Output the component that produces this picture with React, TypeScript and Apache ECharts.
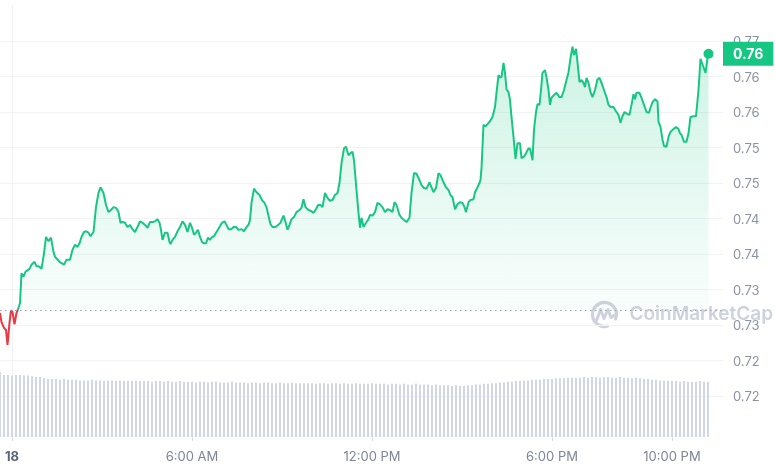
import React, { useEffect, useRef } from 'react';
import * as echarts from 'echarts';

// time in minutes from midnight of the 18th
const axisStart = -24;
const axisEnd = 1422;
const labelTimes = [0, 360, 720, 1080, 1320];
const labelTexts = ['18', '6:00 AM', '12:00 PM', '6:00 PM', '10:00 PM'];

const openPrice = 0.7321;
const lastPrice = 0.7682;
const lastTime = 1393;

const priceTicks = { min: 0.715, max: 0.775, step: 0.005 };

const pricePoints: [number, number][] = [
  [-24, 0.7317], [-21, 0.7304], [-16, 0.7296], [-12, 0.7293], [-9, 0.7272], [-5, 0.7303], [-2, 0.7321], [1, 0.7318],
  [5, 0.7301], [9, 0.7317], [13, 0.7324], [16, 0.7331], [19, 0.7373], [23, 0.7368], [27, 0.7375], [31, 0.7377],
  [35, 0.7379], [39, 0.7385], [45, 0.7389], [49, 0.7383], [55, 0.7382], [59, 0.7379], [64, 0.7401], [68, 0.7424],
  [73, 0.7418], [78, 0.7423], [83, 0.7403], [86, 0.7396], [89, 0.7394], [95, 0.7389], [99, 0.7387], [104, 0.7385],
  [109, 0.7392], [116, 0.7392], [121, 0.7406], [126, 0.7413], [131, 0.741], [135, 0.7415], [139, 0.7424], [144, 0.7431],
  [148, 0.7432], [153, 0.743], [157, 0.7425], [163, 0.7431], [168, 0.7466], [173, 0.7486], [177, 0.7494], [183, 0.7486],
  [188, 0.7469], [193, 0.7459], [198, 0.7462], [203, 0.7466], [208, 0.7465], [213, 0.7459], [217, 0.7444], [221, 0.7445],
  [226, 0.7444], [231, 0.7438], [236, 0.7441], [241, 0.7435], [246, 0.7431], [251, 0.7438], [256, 0.7446], [261, 0.7444],
  [266, 0.7441], [271, 0.7437], [276, 0.7445], [281, 0.7445], [286, 0.7446], [291, 0.7449], [295, 0.7444], [298, 0.7434],
  [301, 0.742], [306, 0.743], [311, 0.743], [315, 0.7417], [317, 0.7414], [321, 0.742], [326, 0.7424], [331, 0.7432],
  [336, 0.7438], [341, 0.7446], [346, 0.7441], [351, 0.7431], [356, 0.7444], [360, 0.7437], [364, 0.7427], [368, 0.743],
  [372, 0.7434], [376, 0.7424], [380, 0.7417], [384, 0.7415], [388, 0.7415], [392, 0.7423], [396, 0.742], [400, 0.7424],
  [404, 0.7425], [409, 0.7431], [415, 0.7438], [420, 0.7444], [425, 0.7446], [429, 0.7441], [433, 0.7435], [439, 0.7435],
  [443, 0.7438], [448, 0.7438], [453, 0.7434], [459, 0.7435], [464, 0.7432], [469, 0.7438], [473, 0.7441], [476, 0.7448],
  [479, 0.7472], [484, 0.7492], [489, 0.7487], [495, 0.7483], [500, 0.7476], [505, 0.7472], [509, 0.7466], [513, 0.7454],
  [517, 0.7442], [521, 0.7438], [527, 0.7438], [532, 0.7441], [537, 0.7444], [543, 0.7454], [547, 0.7445], [551, 0.7434],
  [555, 0.7441], [559, 0.7449], [564, 0.7452], [569, 0.7459], [575, 0.7462], [579, 0.7465], [583, 0.7477], [587, 0.7466],
  [593, 0.7462], [597, 0.7461], [603, 0.7458], [608, 0.7463], [612, 0.7469], [617, 0.7469], [621, 0.7466], [626, 0.7486],
  [631, 0.7479], [636, 0.7475], [641, 0.7476], [646, 0.7483], [651, 0.7486], [655, 0.75], [659, 0.7528], [664, 0.7549],
  [668, 0.7551], [673, 0.7539], [677, 0.7542], [681, 0.7544], [684, 0.7532], [689, 0.749], [693, 0.7458], [696, 0.7437],
  [699, 0.7451], [703, 0.7438], [708, 0.7444], [713, 0.7449], [716, 0.7455], [721, 0.7454], [726, 0.7459], [731, 0.7472],
  [736, 0.747], [741, 0.7466], [746, 0.7459], [751, 0.7463], [756, 0.7462], [761, 0.7459], [765, 0.7473], [769, 0.7469],
  [775, 0.7455], [779, 0.7451], [784, 0.7448], [789, 0.7445], [795, 0.7451], [799, 0.7486], [804, 0.7514], [809, 0.7513],
  [815, 0.7504], [819, 0.7497], [824, 0.7493], [829, 0.7492], [835, 0.7501], [839, 0.7494], [843, 0.7487], [848, 0.7493],
  [853, 0.7514], [857, 0.7511], [863, 0.7501], [868, 0.7494], [873, 0.749], [877, 0.7483], [881, 0.748], [886, 0.7463],
  [891, 0.747], [896, 0.7473], [901, 0.7472], [905, 0.7466], [908, 0.7459], [913, 0.7473], [917, 0.7476], [923, 0.7477],
  [926, 0.7487], [931, 0.7494], [935, 0.75], [937, 0.7504], [939, 0.7521], [943, 0.7582], [947, 0.758], [951, 0.7583],
  [956, 0.7587], [961, 0.7593], [966, 0.7607], [969, 0.7627], [973, 0.7652], [976, 0.7649], [979, 0.7649], [983, 0.7669],
  [986, 0.7655], [989, 0.7632], [993, 0.7628], [996, 0.7617], [999, 0.7593], [1003, 0.7565], [1007, 0.7534], [1011, 0.7556],
  [1016, 0.7556], [1019, 0.7535], [1024, 0.7537], [1028, 0.7542], [1033, 0.7549], [1036, 0.7548], [1039, 0.7539], [1041, 0.7532],
  [1044, 0.7575], [1048, 0.76], [1051, 0.7611], [1055, 0.761], [1058, 0.7631], [1061, 0.7655], [1066, 0.7659], [1069, 0.7649],
  [1073, 0.7631], [1076, 0.761], [1079, 0.762], [1084, 0.7624], [1089, 0.7627], [1095, 0.7621], [1099, 0.7621], [1104, 0.7631],
  [1109, 0.7645], [1113, 0.7656], [1117, 0.7676], [1121, 0.7692], [1124, 0.768], [1128, 0.7689], [1131, 0.767], [1135, 0.7642],
  [1139, 0.7645], [1143, 0.7641], [1146, 0.7635], [1149, 0.7648], [1153, 0.7641], [1157, 0.7628], [1161, 0.7621], [1166, 0.7631],
  [1171, 0.7646], [1175, 0.7648], [1179, 0.7641], [1184, 0.7631], [1189, 0.7621], [1193, 0.761], [1197, 0.7607], [1203, 0.7607],
  [1208, 0.7601], [1213, 0.7596], [1217, 0.7585], [1221, 0.7594], [1225, 0.76], [1231, 0.7597], [1235, 0.7596], [1239, 0.761],
  [1243, 0.7625], [1246, 0.7618], [1249, 0.7627], [1255, 0.7627], [1259, 0.762], [1264, 0.761], [1269, 0.76], [1274, 0.7599],
  [1277, 0.7606], [1281, 0.7614], [1286, 0.7618], [1291, 0.7615], [1293, 0.7586], [1297, 0.7579], [1301, 0.7561], [1304, 0.7552],
  [1309, 0.7551], [1313, 0.7565], [1317, 0.7572], [1323, 0.7576], [1328, 0.7579], [1333, 0.7576], [1336, 0.757], [1339, 0.7568],
  [1344, 0.7558], [1349, 0.7558], [1353, 0.757], [1357, 0.7593], [1363, 0.7594], [1368, 0.7594], [1373, 0.7631], [1377, 0.7675],
  [1383, 0.7663], [1387, 0.7655], [1391, 0.7676], [1393, 0.7682],
];

// volume bars, one every 8 minutes starting at -24
const volumeStart = -24;
const volumeStep = 8;
const volumes = [
  94,
  90, 90, 89, 90, 90, 89, 89, 88,
  87, 87,
  85, 84, 84, 84, 83, 84, 83, 83, 83,
  82, 82, 82, 83, 82, 82, 81, 82, 82, 81, 82, 81, 81, 81, 82, 81,
  81, 81, 80, 81, 81, 80, 81, 80, 80, 81, 80, 80, 80, 79, 80, 80, 79, 80, 80, 79,
  79, 79, 80, 79, 79, 79, 78, 79, 79, 78, 79, 79, 78, 78, 79, 78, 78, 79, 78, 78,
  78, 78, 78, 77, 78, 78, 77, 78, 78, 77, 78, 77, 77, 78, 77, 77, 77, 78, 77, 77, 77, 76, 77, 77, 76, 77, 76, 76, 77, 76,
  76, 76, 75, 76, 75, 75, 75, 74, 75, 74, 74, 75, 75, 76, 76,
  77, 77, 78, 78, 79, 79, 80, 80, 81, 81,
  82, 82, 83, 83, 83, 84, 84, 84, 85, 85,
  85, 86, 86, 86, 86, 87, 86, 87, 87, 86, 87, 87, 86, 86, 87, 86, 86, 85, 86, 85,
  84, 84, 83, 83, 82,
  82, 81, 81, 81, 80, 81, 80, 80, 80, 81, 80, 80,
];

export default function App() {
  const ref = useRef<HTMLDivElement>(null);
  useEffect(() => {
    if (!ref.current) return;
    const chart = echarts.init(ref.current, null, { renderer: 'svg' });
    const font = 'Inter, "Noto Sans", sans-serif';
    const green = '#16c784';
    const red = '#ea3943';
    const wm = '#cdd2dc';
    const volumeData = volumes.map((v, i) => [volumeStart + i * volumeStep, v]);
    const truncated = (v: number) => (Math.floor(v * 100 + 1e-6) / 100).toFixed(2);

    chart.setOption({
      animation: false,
      grid: [
        { left: 0, right: 52, top: 5.5, bottom: 38.5 },
        { left: 0, right: 52, top: 368, bottom: 33 },
      ],
      visualMap: {
        show: false,
        seriesIndex: 0,
        dimension: 1,
        pieces: [
          { gte: 0.5, lt: openPrice, color: red },
          { gte: openPrice, lte: 1, color: green },
        ],
      },
      xAxis: [
        { type: 'value', gridIndex: 0, min: axisStart, max: axisEnd, show: false },
        {
          type: 'value',
          gridIndex: 1,
          min: axisStart,
          max: axisEnd,
          axisLine: { show: false },
          splitLine: { show: false },
          axisTick: { show: true, customValues: labelTimes, length: 4, lineStyle: { color: '#d9dde6' } },
          axisLabel: {
            customValues: labelTimes,
            margin: 12,
            color: '#7d8599',
            fontSize: 13,
            fontFamily: font,
            formatter: (v: number) => {
              const i = labelTimes.indexOf(v);
              if (i < 0) return '';
              return i === 0 ? '{b|' + labelTexts[0] + '}' : labelTexts[i];
            },
            rich: { b: { fontWeight: 'bold', color: '#58667e', fontSize: 13, fontFamily: font } },
          },
        },
      ],
      yAxis: [
        {
          type: 'value',
          gridIndex: 0,
          position: 'right',
          min: priceTicks.min,
          max: priceTicks.max,
          interval: priceTicks.step,
          axisLine: { show: true, lineStyle: { color: '#eff2f5' } },
          axisTick: { show: false },
          splitLine: { show: true, showMinLine: false, showMaxLine: false, lineStyle: { color: '#f1f3f6' } },
          axisLabel: {
            margin: 10,
            color: '#8a92a6',
            fontSize: 13,
            fontFamily: font,
            formatter: (v: number) => (v < 0.7175 || v > 0.7725 ? '' : truncated(v)),
          },
        },
        {
          type: 'value',
          gridIndex: 1,
          position: 'right',
          min: 0,
          max: 100,
          axisLine: { show: true, lineStyle: { color: '#eff2f5' } },
          axisTick: { show: false },
          axisLabel: { show: false },
          splitLine: { show: false },
        },
      ],
      series: [
        {
          type: 'line',
          xAxisIndex: 0,
          yAxisIndex: 0,
          data: pricePoints,
          clip: false,
          symbol: 'none',
          showSymbol: false,
          lineStyle: { width: 2 },
          z: 3,
          areaStyle: {
            origin: openPrice,
            color: new echarts.graphic.LinearGradient(0, 0, 0, 1, [
              { offset: 0, color: 'rgba(22,199,132,0.30)' },
              { offset: 1, color: 'rgba(22,199,132,0.0)' },
            ]),
          },
          markLine: {
            silent: true,
            precision: 4,
            symbol: ['none', 'none'],
            z: 20,
            data: [
              {
                yAxis: openPrice,
                lineStyle: { type: [1.5, 3.5], color: '#9ea5b5', width: 1 },
                label: { show: false },
              },
              {
                yAxis: lastPrice,
                lineStyle: { color: 'rgba(0,0,0,0)', width: 0 },
                label: {
                  show: true,
                  position: 'end',
                  distance: 0,
                  formatter: truncated(lastPrice),
                  backgroundColor: green,
                  color: '#ffffff',
                  opacity: 1,
                  fontWeight: 'bold',
                  fontSize: 14,
                  fontFamily: font,
                  padding: [6, 10, 4, 10],
                },
              },
            ],
          },
          markPoint: {
            silent: true,
            symbol: 'circle',
            symbolSize: 10,
            itemStyle: { color: green },
            label: { show: false },
            data: [{ coord: [lastTime, lastPrice] }],
          },
        },
        {
          type: 'bar',
          xAxisIndex: 1,
          yAxisIndex: 1,
          data: volumeData,
          barWidth: 2,
          itemStyle: { color: '#d2d7e7' },
          z: 1,
        },
      ],
      graphic: [
        {
          type: 'group',
          left: 590,
          top: 300,
          z: 10,
          silent: true,
          children: [
            {
              type: 'arc',
              shape: { cx: 14, cy: 14, r: 12, startAngle: Math.PI * 0.42, endAngle: Math.PI * 2.12, clockwise: true },
              style: { stroke: wm, lineWidth: 3.2, fill: 'none', lineCap: 'round' },
            },
            {
              type: 'polyline',
              shape: { points: [[6, 20], [10, 9], [13.5, 18], [17.5, 9], [20.5, 17], [25, 14]] },
              style: { stroke: wm, lineWidth: 3, fill: 'none', lineJoin: 'round', lineCap: 'round' },
            },
            {
              type: 'text',
              x: 39,
              y: 3,
              style: { text: 'CoinMarketCap', fontSize: 19, fontWeight: 600, fontFamily: font, fill: wm },
            },
          ],
        },
      ],
    });
    return () => chart.dispose();
  }, []);
  return <div ref={ref} style={{ position: 'fixed', left: 0, top: 0, width: 775, height: 470 }} />;
}
